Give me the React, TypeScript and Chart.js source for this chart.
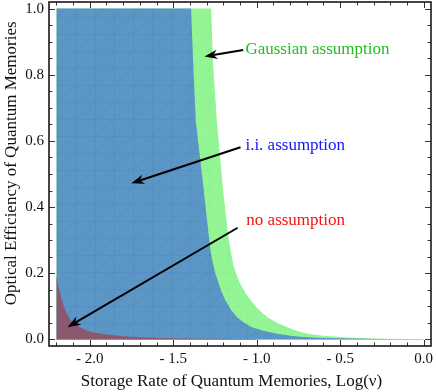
import React, { useEffect, useRef } from "react";
import { Chart, registerables } from "chart.js";

Chart.register(...registerables);

// ---- data ----
const xTickValues = [-2.0, -1.5, -1.0, -0.5, 0.0];
const yTickValues = [0.0, 0.2, 0.4, 0.6, 0.8, 1.0];

const gaussianX = [-2.2, -1.273, -1.261, -1.239, -1.201, -1.167, -1.156, -1.14, -1.118, -1.095, -1.068, -1.036, -0.99, -0.936, -0.88, -0.816, -0.76, -0.698, -0.6, -0.46, -0.3, -0.15, 0.0];
const gaussianY = [1.0, 1.0, 0.83, 0.662, 0.45, 0.299, 0.269, 0.225, 0.192, 0.165, 0.14, 0.118, 0.09, 0.067, 0.05, 0.037, 0.026, 0.017, 0.011, 0.006, 0.003, 0.0015, 0.0008];

const iiX = [-2.2, -1.393, -1.38, -1.365, -1.317, -1.284, -1.277, -1.265, -1.248, -1.227, -1.21, -1.188, -1.155, -1.118, -1.075, -1.028, -0.96, -0.878, -0.8, -0.721, -0.6, -0.45, -0.25, 0.0];
const iiY = [1.0, 1.0, 0.83, 0.661, 0.45, 0.3, 0.269, 0.237, 0.2, 0.168, 0.143, 0.118, 0.09, 0.067, 0.05, 0.037, 0.026, 0.017, 0.011, 0.007, 0.0045, 0.0025, 0.0012, 0.0005];

const noX = [-2.2, -2.193, -2.185, -2.173, -2.158, -2.143, -2.128, -2.114, -2.085, -2.054, -2.025, -1.994, -1.934, -1.874, -1.815, -1.755, -1.666, -1.576, -1.45, -1.3, -1.15, -1.0];
const noY = [0.194, 0.174, 0.155, 0.13, 0.104, 0.084, 0.069, 0.058, 0.045, 0.035, 0.028, 0.023, 0.017, 0.013, 0.01, 0.008, 0.006, 0.004, 0.003, 0.002, 0.0015, 0.001];

const labelTexts = ["Gaussian assumption", "i.i. assumption", "no assumption"];
// label anchor (data coords) and arrow tail/head (data coords)
const labelAnchorX = [-1.0675, -1.0675, -1.062];
const labelAnchorY = [0.876, 0.585, 0.3595];
const arrowTailX = [-1.081, -1.097, -1.114];
const arrowTailY = [0.875, 0.581, 0.3375];
const arrowHeadX = [-1.3126, -1.751, -2.133];
const arrowHeadY = [0.855, 0.472, 0.037];

const xTitle = "Storage Rate of Quantum Memories, Log(ν)";
const yTitle = "Optical Efficiency of Quantum Memories";

// ---- styles ----
const SERIF = '"Liberation Serif", "Times New Roman", serif';
const labelColors = ["#1fbf1f", "#1515f0", "#f01515"];
const BLUE = "#5b96c4";
const GREEN = "#93f593";
const PURPLE = "#8b5870";

const toPts = (xs: number[], ys: number[]) => xs.map((x, i) => ({ x, y: ys[i] }));

function makeMesh(base: string, line: string): CanvasPattern | string {
  const c = document.createElement("canvas");
  const w = 19, h = 17;
  c.width = w; c.height = h;
  const g = c.getContext("2d");
  if (!g) return base;
  g.fillStyle = base;
  g.fillRect(0, 0, w, h);
  g.strokeStyle = line;
  g.lineWidth = 0.6;
  g.beginPath();
  g.moveTo(0.5, 0); g.lineTo(0.5, h);
  g.moveTo(0, 0.5); g.lineTo(w, 0.5);
  g.moveTo(0, h); g.lineTo(w, 0);
  g.stroke();
  const p = g.createPattern(c, "repeat");
  return p || base;
}

const framePlugin = {
  id: "framePlugin",
  afterDraw(chart: any) {
    const { ctx, chartArea } = chart;
    const xs = chart.scales.x;
    const ys = chart.scales.y;
    const { left, right, top, bottom } = chartArea;
    ctx.save();
    // ticks inward
    ctx.strokeStyle = "#333";
    ctx.lineWidth = 1;
    ctx.beginPath();
    for (let i = -22; i <= 0; i++) {
      const v = i / 10;
      const major = i % 5 === 0;
      const len = major ? 6 : 3.5;
      const px = Math.round(xs.getPixelForValue(v)) + 0.5;
      ctx.moveTo(px, bottom); ctx.lineTo(px, bottom - len);
      ctx.moveTo(px, top); ctx.lineTo(px, top + len);
    }
    for (let i = 0; i <= 20; i++) {
      const v = i / 20;
      const major = i % 4 === 0;
      const len = major ? 6 : 3.5;
      const py = Math.round(ys.getPixelForValue(v)) + 0.5;
      ctx.moveTo(left, py); ctx.lineTo(left + len, py);
      ctx.moveTo(right, py); ctx.lineTo(right - len, py);
    }
    ctx.stroke();
    // frame
    ctx.strokeStyle = "#1a1a1a";
    ctx.lineWidth = 1.6;
    ctx.strokeRect(left, top, right - left, bottom - top);

    // arrows
    for (let i = 0; i < labelTexts.length; i++) {
      const tx = xs.getPixelForValue(arrowTailX[i]);
      const ty = ys.getPixelForValue(arrowTailY[i]);
      const hx = xs.getPixelForValue(arrowHeadX[i]);
      const hy = ys.getPixelForValue(arrowHeadY[i]);
      const ang = Math.atan2(hy - ty, hx - tx);
      const L = 13, W = 4.8, N = 9;
      const cos = Math.cos(ang), sin = Math.sin(ang);
      const bx = hx - L * cos, by = hy - L * sin;
      const nx = hx - N * cos, ny = hy - N * sin;
      ctx.strokeStyle = "#000";
      ctx.lineWidth = 2;
      ctx.beginPath();
      ctx.moveTo(tx, ty);
      ctx.lineTo(nx, ny);
      ctx.stroke();
      ctx.fillStyle = "#000";
      ctx.beginPath();
      ctx.moveTo(hx, hy);
      ctx.lineTo(bx - W * sin, by + W * cos);
      ctx.lineTo(nx, ny);
      ctx.lineTo(bx + W * sin, by - W * cos);
      ctx.closePath();
      ctx.fill();

      ctx.fillStyle = labelColors[i];
      ctx.font = `17px ${SERIF}`;
      ctx.textAlign = "left";
      ctx.textBaseline = "middle";
      ctx.fillText(labelTexts[i], xs.getPixelForValue(labelAnchorX[i]), ys.getPixelForValue(labelAnchorY[i]));
    }
    ctx.restore();
  },
};

const fmt = (v: number) => (v < -1e-9 ? "- " + Math.abs(v).toFixed(1) : Math.abs(v).toFixed(1));

export default function App() {
  const ref = useRef<HTMLCanvasElement | null>(null);
  useEffect(() => {
    document.body.style.margin = "0";
    if (!ref.current) return;
    const blueMesh = makeMesh(BLUE, "rgba(45,100,205,0.22)");
    const greenMesh = makeMesh(GREEN, "rgba(120,220,150,0.25)");
    const common = {
      showLine: true,
      fill: "origin",
      borderWidth: 0,
      pointRadius: 0,
      tension: 0,
    };
    const chart = new Chart(ref.current, {
      type: "scatter",
      data: {
        datasets: [
          { ...common, label: "no assumption", data: toPts(noX, noY), backgroundColor: PURPLE, order: 0 },
          { ...common, label: "i.i. assumption", data: toPts(iiX, iiY), backgroundColor: blueMesh as any, order: 1 },
          { ...common, label: "Gaussian assumption", data: toPts(gaussianX, gaussianY), backgroundColor: greenMesh as any, order: 2 },
        ],
      },
      options: {
        responsive: false,
        animation: false,
        events: [],
        layout: { padding: { top: 2, right: 5, left: 0, bottom: 0 } },
        plugins: { legend: { display: false }, tooltip: { enabled: false } },
        scales: {
          x: {
            type: "linear",
            min: -2.244,
            max: 0.044,
            grid: { display: false, drawTicks: false },
            border: { display: false },
            afterFit: (s: any) => { s.height = 46; s.paddingLeft = 0; s.paddingRight = 0; },
            afterBuildTicks: (s: any) => { s.ticks = xTickValues.map((v) => ({ value: v })); },
            ticks: {
              font: { family: SERIF, size: 15 },
              color: "#111",
              padding: 4,
              maxRotation: 0,
              callback: (v: any) => fmt(Number(v)),
            },
            title: {
              display: true,
              text: xTitle + "    ",
              font: { family: SERIF, size: 17 },
              color: "#111",
              padding: { top: 0, bottom: 0 },
            },
          },
          y: {
            type: "linear",
            min: -0.02,
            max: 1.02,
            grid: { display: false, drawTicks: false },
            border: { display: false },
            afterFit: (s: any) => { s.width = 49; s.paddingTop = 0; s.paddingBottom = 0; },
            afterBuildTicks: (s: any) => { s.ticks = yTickValues.map((v) => ({ value: v })); },
            ticks: {
              font: { family: SERIF, size: 15 },
              color: "#111",
              padding: 5,
              callback: (v: any) => fmt(Number(v)),
            },
            title: {
              display: true,
              text: "     " + yTitle,
              font: { family: SERIF, size: 17 },
              color: "#111",
              padding: { top: 1, bottom: 0 },
            },
          },
        },
      },
      plugins: [framePlugin],
    } as any);
    return () => chart.destroy();
  }, []);
  return (
    <div style={{ width: 436, height: 392 }}>
      <canvas ref={ref} width={436} height={392} style={{ display: "block" }} />
    </div>
  );
}
